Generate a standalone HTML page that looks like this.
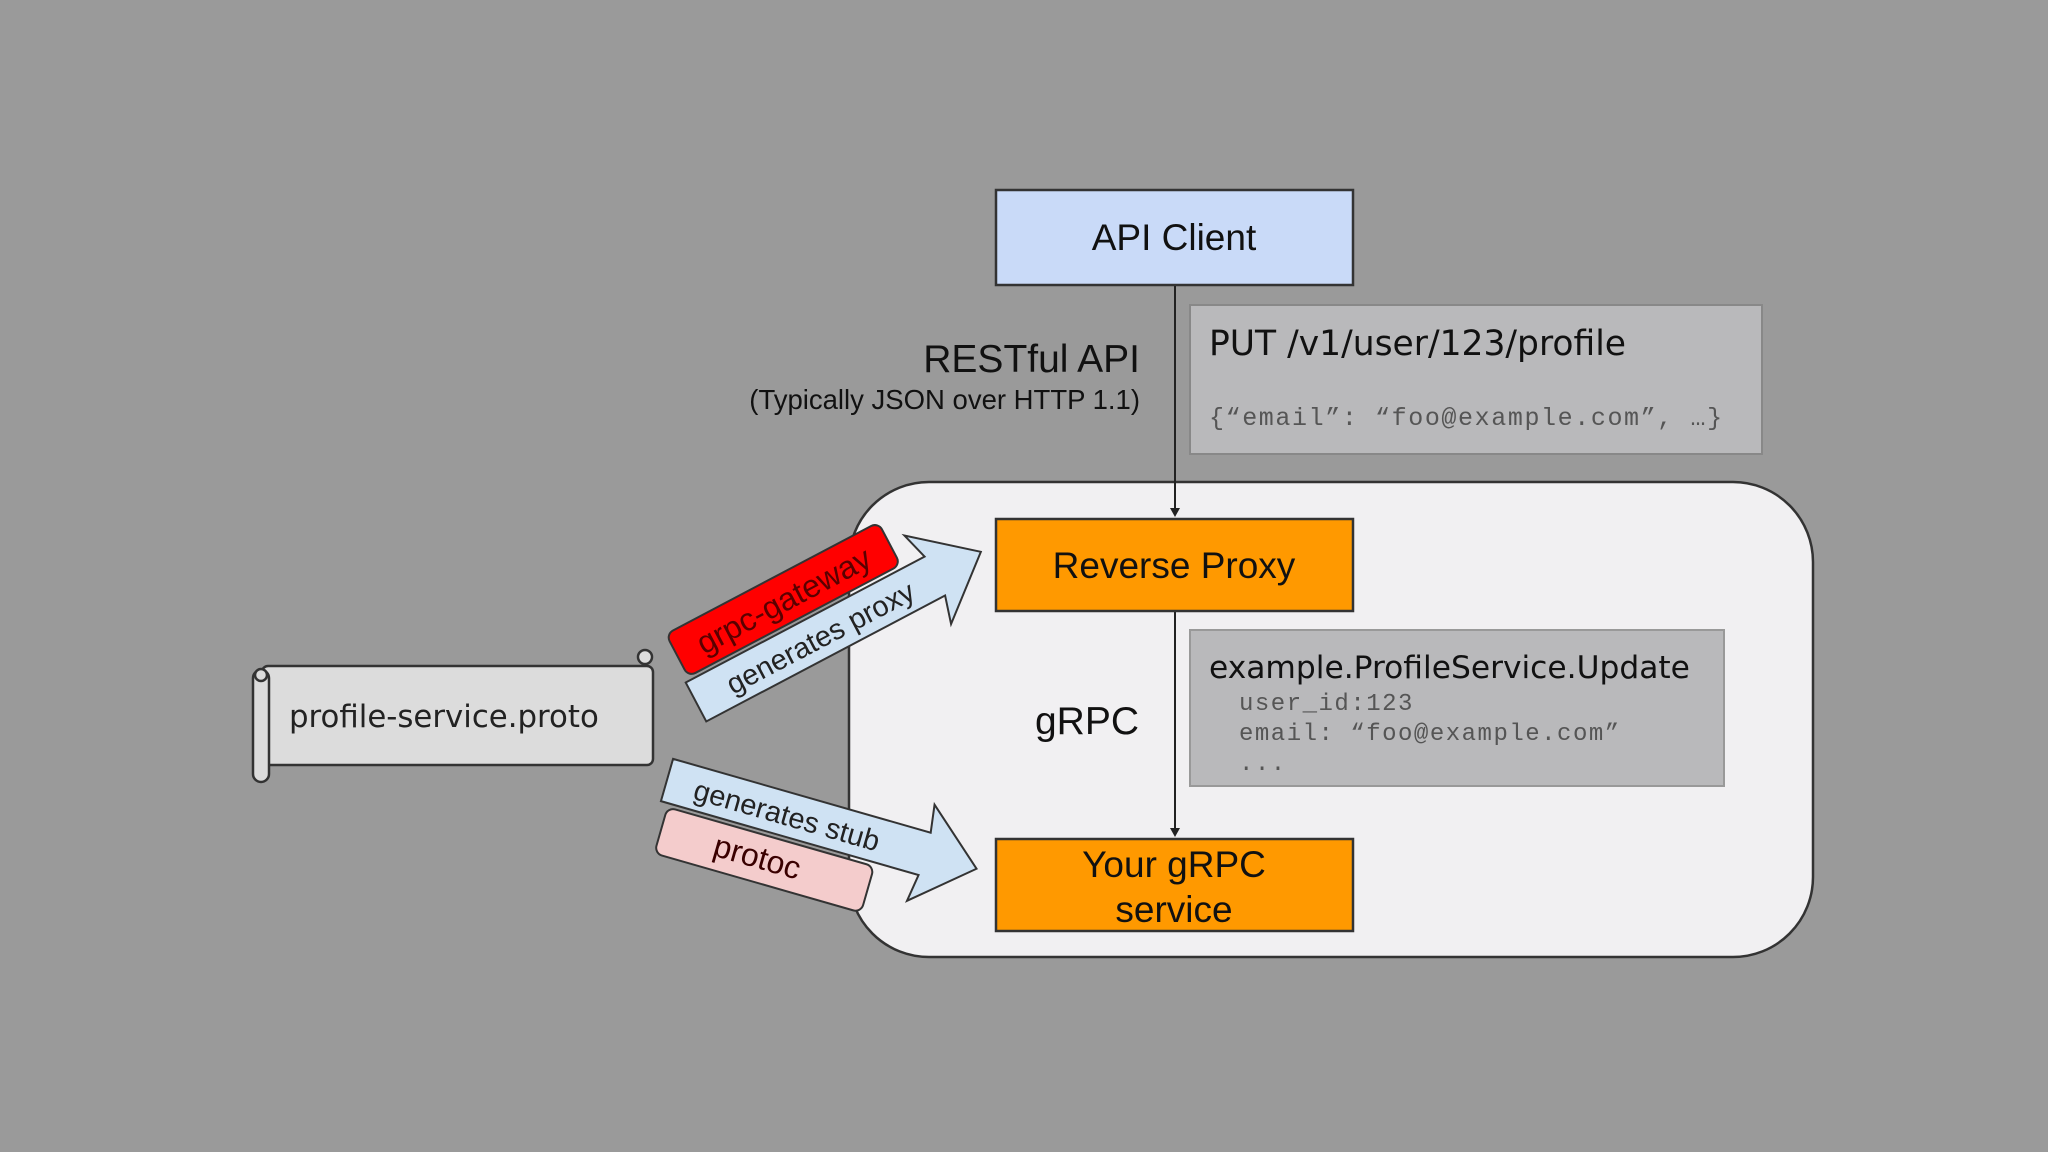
<!DOCTYPE html>
<html><head><meta charset="utf-8"><style>
html,body{margin:0;padding:0;background:#9a9a9a;}
svg{display:block}
</style></head><body>
<svg width="2048" height="1152" viewBox="0 0 2048 1152" xmlns="http://www.w3.org/2000/svg">
<rect width="2048" height="1152" fill="#9a9a9a"/>
<rect x="849" y="482" width="964" height="475" rx="80" ry="80" fill="#f1f0f2" stroke="#333" stroke-width="2.5"/>
<rect x="996" y="190" width="357" height="95" fill="#c9daf8" stroke="#333" stroke-width="2.5"/>
<text x="1174" y="250" font-family="Liberation Sans, sans-serif" font-size="37" text-anchor="middle" fill="#111">API Client</text>
<rect x="1190" y="305" width="572" height="149" fill="#b9b9bb" stroke="#888" stroke-width="2"/>
<text x="1209" y="355" font-family="DejaVu Sans, sans-serif" font-size="34.5" fill="#111">PUT /v1/user/123/profile</text>
<text x="1209" y="425" font-family="Liberation Mono, monospace" font-size="25" letter-spacing="1.6" fill="#555">{“email”: “foo@example.com”, …}</text>
<text x="1140" y="372" font-family="Liberation Sans, sans-serif" font-size="39" text-anchor="end" fill="#111">RESTful API</text>
<text x="1140" y="409" font-family="Liberation Sans, sans-serif" font-size="27.5" text-anchor="end" fill="#111">(Typically JSON over HTTP 1.1)</text>
<line x1="1175" y1="286" x2="1175" y2="510" stroke="#222" stroke-width="2"/>
<polygon points="1170,508 1180,508 1175,517" fill="#222"/>
<line x1="1175" y1="611" x2="1175" y2="830" stroke="#222" stroke-width="2"/>
<polygon points="1170,828 1180,828 1175,837" fill="#222"/>
<rect x="996" y="519" width="357" height="92" fill="#ff9900" stroke="#333" stroke-width="2.5"/>
<text x="1174" y="578" font-family="Liberation Sans, sans-serif" font-size="37" text-anchor="middle" fill="#111">Reverse Proxy</text>
<text x="1087" y="734" font-family="Liberation Sans, sans-serif" font-size="39" text-anchor="middle" fill="#111">gRPC</text>
<rect x="1190" y="630" width="534" height="156" fill="#b9b9bb" stroke="#999" stroke-width="2"/>
<text x="1209" y="678" font-family="DejaVu Sans, sans-serif" font-size="31.3" fill="#111">example.ProfileService.Update</text>
<text x="1239" y="710" font-family="Liberation Mono, monospace" font-size="24" letter-spacing="1.5" fill="#555">user_id:123</text>
<text x="1239" y="740" font-family="Liberation Mono, monospace" font-size="24" letter-spacing="1.5" fill="#555">email: “foo@example.com”</text>
<text x="1239" y="770" font-family="Liberation Mono, monospace" font-size="24" letter-spacing="1.5" fill="#555">...</text>
<g stroke="#333" stroke-width="2.5">
<rect x="262" y="666" width="391" height="99" rx="6" fill="#dcdcdc"/>
<rect x="253" y="670" width="16" height="112" rx="8" fill="#dcdcdc"/>
<circle cx="261" cy="675" r="6" fill="#dcdcdc"/>
<circle cx="645" cy="657" r="7" fill="#dcdcdc"/>
</g>
<text x="289" y="727" font-family="DejaVu Sans, sans-serif" font-size="30.8" fill="#222">profile-service.proto</text>
<g transform="translate(696,702) rotate(-27.8)">
<polygon points="0,-22 270,-22 262,-50 322,0 262,50 270,22 0,22" fill="#cfe2f3" stroke="#333" stroke-width="2"/>
<text x="140" y="11" font-family="Liberation Sans, sans-serif" font-size="29" text-anchor="middle" fill="#222">generates proxy</text>
<rect x="5" y="-74" width="240" height="48" rx="8" fill="#ff0000" stroke="#333" stroke-width="2"/>
<text x="125" y="-38" font-family="Liberation Sans, sans-serif" font-size="32" text-anchor="middle" fill="#5a0000">grpc-gateway</text>
</g>
<g transform="translate(667,780) rotate(16)">
<polygon points="0,-22 268,-22 264,-50 322,0 264,50 268,22 0,22" fill="#cfe2f3" stroke="#333" stroke-width="2"/>
<text x="125" y="11" font-family="Liberation Sans, sans-serif" font-size="29" text-anchor="middle" fill="#222">generates stub</text>
<rect x="8" y="26" width="215" height="48" rx="8" fill="#f4cccc" stroke="#333" stroke-width="2"/>
<text x="108" y="60" font-family="Liberation Sans, sans-serif" font-size="32" text-anchor="middle" fill="#3a0000">protoc</text>
</g>
<rect x="996" y="839" width="357" height="92" fill="#ff9900" stroke="#333" stroke-width="2.5"/>
<text x="1174" y="877" font-family="Liberation Sans, sans-serif" font-size="37" text-anchor="middle" fill="#111">Your gRPC</text>
<text x="1174" y="922" font-family="Liberation Sans, sans-serif" font-size="37" text-anchor="middle" fill="#111">service</text>
</svg>
</body></html>
